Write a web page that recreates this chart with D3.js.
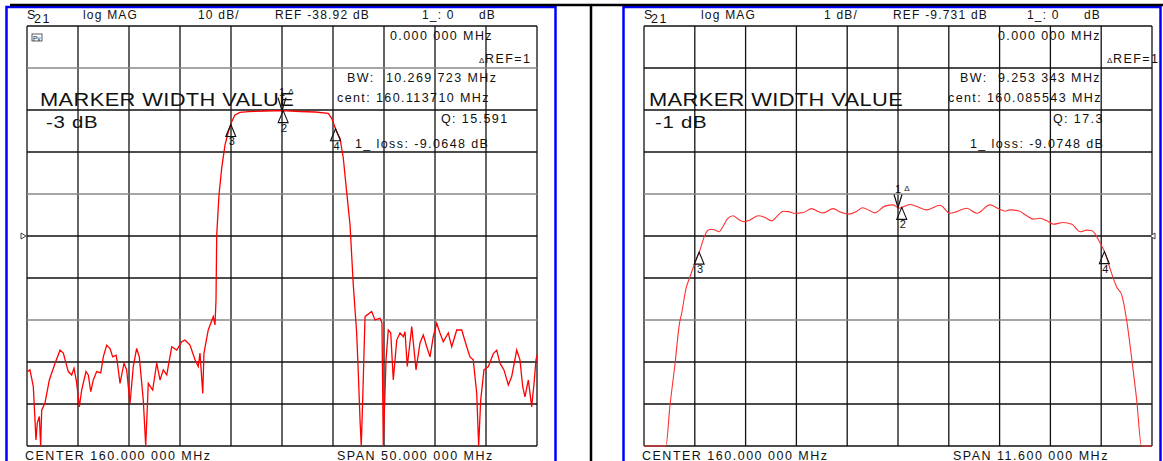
<html>
<head>
<script src="https://d3js.org/d3.v7.min.js"></script>
<style>
    body { margin: 0; background: #fff; }
    svg text { font-family: "Liberation Sans", Arial, sans-serif; fill: #111; }
</style>
</head>
<body>
<script>

    //---------- left screen: 10 dB/div, span 50 MHz ----------
    var leftSetup = [160.0, 50.0, 10, -38.92];   // center MHz, span MHz, dB per div, ref dB
    var leftTrace = [
        [135.03, -71.2], [135.29, -70.8], [135.62, -74.8], [135.88, -87.5], [136.01, -83.4],
        [136.21, -81.9], [136.34, -89.0], [136.44, -80.4], [136.76, -78.7], [137.19, -73.2],
        [137.75, -69.2], [138.24, -66.1], [138.56, -66.8], [139.05, -71.2], [139.38, -72.0],
        [139.61, -70.4], [139.87, -73.9], [140.13, -79.6], [140.36, -75.6], [140.78, -71.2],
        [141.01, -72.0], [141.25, -76.0], [141.50, -73.2], [141.83, -71.2], [142.23, -71.5],
        [142.48, -67.7], [142.81, -64.9], [143.14, -65.7], [143.40, -67.7], [143.73, -67.3],
        [143.85, -68.9], [144.12, -74.0], [144.51, -69.2], [144.77, -70.8], [145.10, -78.8],
        [145.42, -70.0], [145.75, -65.7], [146.01, -67.7], [146.40, -78.0], [146.64, -89.0],
        [146.89, -74.0], [147.32, -75.6], [147.72, -69.2], [148.04, -73.2], [148.36, -70.8],
        [148.70, -72.0], [149.19, -65.3], [149.68, -66.1], [150.17, -64.1], [150.49, -63.7],
        [150.98, -64.9], [151.47, -68.4], [151.79, -70.0], [151.96, -66.8], [152.23, -76.4],
        [152.35, -66.8], [152.77, -61.3], [153.26, -58.1], [153.43, -60.1], [153.53, -54.2],
        [153.60, -38.7], [153.82, -29.2], [154.09, -22.7], [154.41, -17.3], [154.74, -14.1],
        [155.07, -11.7], [155.39, -10.1], [155.88, -9.47], [156.70, -9.32], [158.33, -9.16],
        [160.00, -9.06], [161.76, -9.28], [163.24, -9.40], [164.54, -9.71], [164.87, -10.9],
        [165.36, -14.1], [165.69, -15.7], [166.01, -20.4], [166.34, -28.4], [166.67, -36.3],
        [166.99, -50.6], [167.32, -62.0], [167.48, -71.5], [167.65, -82.7], [167.77, -89.0],
        [167.91, -78.0], [168.14, -58.1], [168.36, -57.7], [168.79, -56.9], [169.12, -58.9],
        [169.61, -58.5], [169.80, -59.6], [169.93, -89.0], [170.20, -68.4], [170.42, -61.3],
        [170.66, -62.0], [170.91, -73.2], [171.25, -63.7], [171.57, -62.0], [171.89, -62.9],
        [172.06, -61.7], [172.28, -70.0], [172.72, -60.5], [173.14, -70.8], [173.53, -64.4],
        [173.85, -62.5], [174.19, -65.3], [174.51, -67.7], [174.83, -62.9], [175.17, -59.7],
        [175.49, -62.0], [175.81, -64.1], [176.30, -62.0], [176.64, -65.3], [177.13, -61.3],
        [177.62, -61.3], [178.11, -65.3], [178.43, -67.7], [178.75, -68.4], [179.09, -76.4],
        [179.28, -89.0], [179.48, -78.0], [179.80, -70.8], [180.23, -70.0], [180.72, -66.9],
        [181.05, -66.1], [181.37, -69.2], [181.76, -70.8], [182.19, -74.4], [182.52, -72.4],
        [183.01, -66.1], [183.33, -68.4], [183.60, -74.8], [183.82, -77.2], [184.15, -73.2],
        [184.48, -79.6], [184.71, -74.0], [184.90, -68.4], [185.00, -67.3]
    ];
    var leftMarkers = [160.000, 160.114, 154.979, 165.249];   // markers 1..4, MHz
    var leftHeader = ["log MAG", "10 dB/", "REF -38.92 dB", "1_: 0", "dB"];
    var leftReadout = ["0.000 000 MHz", "REF=1", "BW:", "10.269 723 MHz",
                       "cent: 160.113710 MHz", "Q: 15.591", "1_ loss: -9.0648 dB"];
    var leftNote = ["MARKER WIDTH VALUE", "-3 dB"];
    var leftFooter = ["CENTER 160.000 000 MHz", "SPAN 50.000 000 MHz"];

    //---------- right screen: 1 dB/div, span 11.6 MHz ----------
    var rightSetup = [160.0, 11.6, 1, -9.731];
    var rightTrace = [
        [154.20, -14.8], [154.70, -14.8], [154.79, -13.80], [154.91, -12.76], [155.01, -11.81],
        [155.06, -11.57], [155.16, -10.98], [155.25, -10.70], [155.36, -10.38], [155.48, -10.06],
        [155.59, -9.71], [155.67, -9.59], [155.75, -9.57], [155.82, -9.59], [155.92, -9.63],
        [156.00, -9.51], [156.10, -9.33], [156.23, -9.25], [156.35, -9.33], [156.47, -9.39],
        [156.62, -9.35], [156.81, -9.25], [156.96, -9.29], [157.12, -9.37], [157.23, -9.27],
        [157.38, -9.14], [157.50, -9.15], [157.65, -9.19], [157.84, -9.17], [158.03, -9.08],
        [158.18, -9.15], [158.29, -9.18], [158.52, -9.08], [158.68, -9.16], [158.87, -9.21],
        [159.06, -9.14], [159.19, -9.06], [159.36, -9.13], [159.47, -9.18], [159.70, -9.02],
        [159.89, -8.99], [160.03, -9.07], [160.27, -8.98], [160.43, -9.03], [160.66, -9.11],
        [160.96, -9.00], [161.19, -9.19], [161.34, -9.15], [161.57, -9.07], [161.80, -9.19],
        [162.10, -8.99], [162.33, -9.10], [162.44, -9.14], [162.56, -9.11], [162.75, -9.13],
        [162.94, -9.25], [163.09, -9.33], [163.24, -9.31], [163.40, -9.37], [163.55, -9.45],
        [163.77, -9.41], [163.97, -9.45], [164.16, -9.63], [164.31, -9.59], [164.42, -9.60],
        [164.50, -9.68], [164.60, -9.87], [164.73, -10.14], [164.84, -10.50], [164.99, -10.94],
        [165.11, -11.14], [165.22, -11.73], [165.34, -12.68], [165.45, -13.63], [165.56, -14.75],
        [165.80, -14.8]
    ];
    var rightMarkers = [160.000, 160.086, 155.459, 164.712];
    var rightHeader = ["log MAG", "1 dB/", "REF -9.731 dB", "1_: 0", "dB"];
    var rightReadout = ["0.000 000 MHz", "REF=1", "BW:", "9.253 343 MHz",
                        "cent: 160.085543 MHz", "Q: 17.3", "1_ loss: -9.0748 dB"];
    var rightNote = ["MARKER WIDTH VALUE", "-1 dB"];
    var rightFooter = ["CENTER 160.000 000 MHz", "SPAN 11.600 000 MHz"];

    //---------- page ----------
    var W = 1163, H = 461;
    var svg = d3.select("body").append("svg")
        .attr("width", W).attr("height", H)
        .style("display", "block");

    var txt = function (g, x, y, s, size, ls, anchor) {
        return g.append("text")
            .attr("x", x).attr("y", y)
            .attr("font-size", size)
            .attr("letter-spacing", ls || 0)
            .attr("text-anchor", anchor || "start")
            .text(s);
    };
    // the analyzer font is wider than Arial, so stretch it sideways
    var wide = function (g, x, y, s, size, sx, ls) {
        return g.append("text")
            .attr("transform", "translate(" + x + "," + y + ") scale(" + sx + ",1)")
            .attr("font-size", size)
            .attr("letter-spacing", ls || 0)
            .text(s);
    };

    // frames
    svg.append("rect").attr("x", 6.5).attr("y", 7).attr("width", 549).attr("height", 470)
        .attr("fill", "none").attr("stroke", "#0000ff").attr("stroke-width", 2.5);
    svg.append("rect").attr("x", 623.5).attr("y", 7).attr("width", 537).attr("height", 470)
        .attr("fill", "none").attr("stroke", "#0000ff").attr("stroke-width", 2.5);
    svg.append("line").attr("x1", 10).attr("x2", W).attr("y1", 5).attr("y2", 5)
        .attr("stroke", "#000").attr("stroke-width", 2.5);
    svg.append("line").attr("x1", 591).attr("x2", 591).attr("y1", 5).attr("y2", H)
        .attr("stroke", "#000").attr("stroke-width", 2.5);

    var drawPanel = function (p) {
        var g = svg.append("g");
        var setup = p.setup;
        var f0 = setup[0] - setup[1] / 2, f1 = setup[0] + setup[1] / 2;
        var x = d3.scaleLinear().domain([f0, f1]).range([p.left, p.right]);
        var y = d3.scaleLinear()
            .domain([setup[3] - 5 * setup[2], setup[3] + 5 * setup[2]])
            .range([446, 26]).clamp(true);

        // grid, 10 x 10 divisions
        var fGrid = d3.range(11).map(function (i) { return f0 + i * setup[1] / 10; });
        var dbGrid = d3.range(11).map(function (i) { return setup[3] + (5 - i) * setup[2]; });
        g.selectAll(".vl").data(fGrid).enter().append("line")
            .attr("x1", function (d) { return x(d); }).attr("x2", function (d) { return x(d); })
            .attr("y1", 26).attr("y2", 446)
            .attr("stroke", "#111").attr("stroke-width", 1.3);
        g.selectAll(".hl").data(dbGrid).enter().append("line")
            .attr("x1", p.left).attr("x2", p.right)
            .attr("y1", function (d) { return y(d); }).attr("y2", function (d) { return y(d); })
            .attr("stroke", function (d, i) { return p.gray.indexOf(i) >= 0 ? "#888" : "#111"; })
            .attr("stroke-width", 1.3);

        // reference position arrow
        var ry = y(setup[3]);
        var ax = p.refSide == "left" ? p.left - 5 : p.right + 2;
        var dir = p.refSide == "left" ? 1 : -1;
        g.append("path")
            .attr("d", "M" + (ax - dir * 1) + "," + (ry - 3) + "L" + (ax + dir * 4) + "," + ry + "L" + (ax - dir * 1) + "," + (ry + 3) + "Z")
            .attr("fill", "#fff").attr("stroke", "#444").attr("stroke-width", 1);

        // trace
        var line = d3.line()
            .curve(p.smooth ? d3.curveMonotoneX : d3.curveLinear)
            .x(function (d) { return x(d[0]); })
            .y(function (d) { return y(d[1]); });
        g.append("path").datum(p.trace)
            .attr("d", line)
            .attr("fill", "none").attr("stroke", p.traceColor).attr("stroke-width", p.traceWidth);

        // markers sit on the trace
        var bis = d3.bisector(function (d) { return d[0]; }).left;
        var onTrace = function (f) {
            var i = Math.max(1, Math.min(p.trace.length - 1, bis(p.trace, f)));
            var a = p.trace[i - 1], b = p.trace[i];
            var t = (f - a[0]) / (b[0] - a[0]);
            return a[1] + t * (b[1] - a[1]);
        };
        p.markers.forEach(function (f, k) {
            var mx = x(f), my = y(onTrace(f));
            if (k == 0) {
                g.append("path")
                    .attr("d", "M" + (mx - 4) + "," + (my - 13) + "L" + mx + "," + my + "L" + (mx + 4) + "," + (my - 13))
                    .attr("fill", "none").attr("stroke", "#111").attr("stroke-width", 1.2);
                txt(g, mx, my - 15, "1", 11, 0, "middle");
                txt(g, mx + 9, my - 17, "\u0394", 8, 0, "middle");
            } else {
                g.append("path")
                    .attr("d", "M" + mx + "," + my + "L" + (mx - 5) + "," + (my + 12) + "L" + (mx + 5) + "," + (my + 12) + "Z")
                    .attr("fill", "none").attr("stroke", "#111").attr("stroke-width", 1.1);
                txt(g, mx + 1, my + 21, String(k + 1), 11, 0, "middle");
            }
        });

        // header line
        txt(g, p.left, 19, "S", 12.5, 0);
        txt(g, p.left + 7, 23, "21", 12.5, 1.5);
        p.header.forEach(function (s, i) { txt(g, p.hx[i], 19, s, 12, 1.2); });

        // marker readout
        var r = p.readout, rx = p.rx;
        txt(g, rx[0], 40, r[0], 12.5, 1.4);
        txt(g, rx[1] - 6, 63, "\u0394", 8, 0);
        txt(g, rx[1], 63, r[1], 12.5, 1.4);
        txt(g, rx[2], 82, r[2], 12.5, 1.4);
        txt(g, rx[3], 82, r[3], 12.5, 1.4);
        txt(g, rx[4], 102, r[4], 12.5, 1.4);
        txt(g, rx[5], 123, r[5], 12.5, 1.4);
        txt(g, rx[6], 148, r[6], 12.5, 1.4);

        wide(g, p.nx, 106, p.note[0], 17.5, 1.25, 0.3);
        wide(g, p.nx + 6, 128, p.note[1], 17, 1.2, 0.6);

        txt(g, p.fx[0], 460, p.footer[0], 12.5, 1.5);
        txt(g, p.fx[1], 460, p.footer[1], 12.5, 1.5);

        // small screen icon
        if (p.icon) {
            g.append("rect").attr("x", 32).attr("y", 34).attr("width", 10).attr("height", 7)
                .attr("fill", "none").attr("stroke", "#333").attr("stroke-width", 0.8);
            txt(g, 33, 40.5, "Pv", 6.5, 0);
        }
    };

    drawPanel({
        setup: leftSetup, trace: leftTrace, markers: leftMarkers,
        header: leftHeader, readout: leftReadout, note: leftNote, footer: leftFooter,
        left: 27, right: 537, gray: [1, 4, 7], refSide: "left",
        traceColor: "#ff0000", traceWidth: 1.3, icon: true, smooth: false,
        hx: [83, 198, 275, 422, 479],
        rx: [390, 485, 347, 386, 337, 441, 355],
        nx: 40, fx: [25, 337]
    });
    drawPanel({
        setup: rightSetup, trace: rightTrace, markers: rightMarkers,
        header: rightHeader, readout: rightReadout, note: rightNote, footer: rightFooter,
        left: 644, right: 1152, gray: [4, 7], refSide: "right",
        traceColor: "#ff3030", traceWidth: 1.1, icon: false, smooth: true,
        hx: [701, 824, 893, 1027, 1084],
        rx: [998, 1113, 960, 998, 948, 1053, 970],
        nx: 649, fx: [642, 953]
    });

</script>
</body>
</html>
